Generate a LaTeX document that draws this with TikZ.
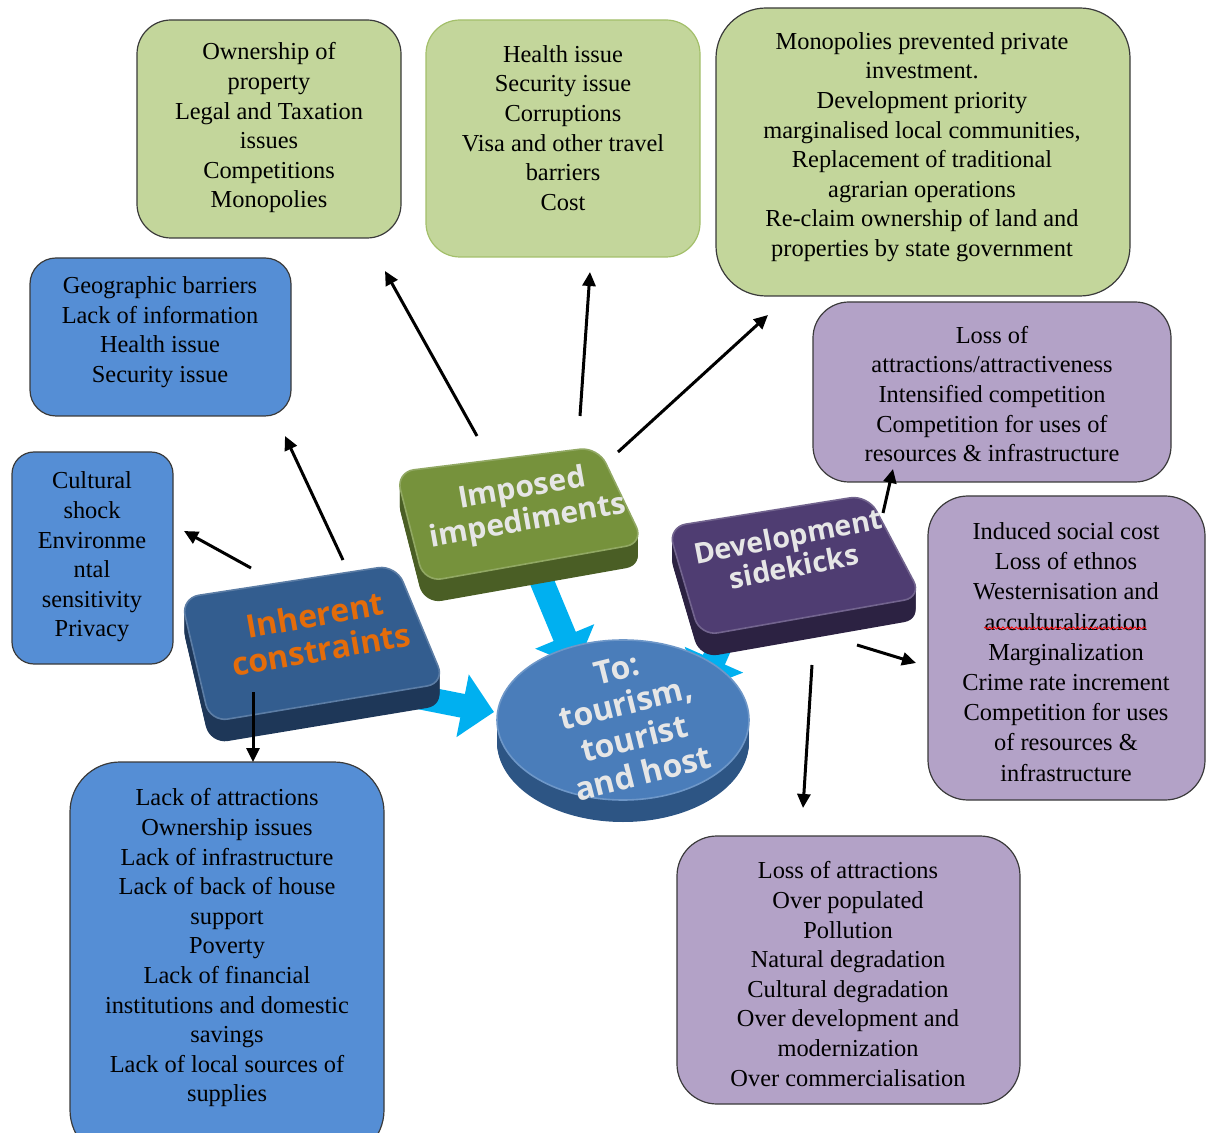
\documentclass[tikz,border=0pt]{standalone}
\usepackage{fontspec}
\setmainfont{Liberation Serif}
\newfontfamily\blockfont{Open Sans}
\usetikzlibrary{arrows.meta,fit,decorations.pathmorphing}

\definecolor{gfill}{HTML}{C3D69B}
\definecolor{bfill}{HTML}{558ED5}
\definecolor{pfill}{HTML}{B3A2C7}
\definecolor{edge}{HTML}{3A3A3A}
\definecolor{gedge}{HTML}{A3BF6A}
\definecolor{fatblue}{HTML}{00B0F0}
\definecolor{ictop}{HTML}{335D8F}
\definecolor{icside}{HTML}{1E3758}
\definecolor{iitop}{HTML}{76923C}
\definecolor{iiside}{HTML}{4A5E25}
\definecolor{dstop}{HTML}{4F3D72}
\definecolor{dsside}{HTML}{2C2242}
\definecolor{cytop}{HTML}{4A7DBA}
\definecolor{cyside}{HTML}{2D5584}
\definecolor{icorange}{HTML}{E46C0A}
\definecolor{emboss}{HTML}{E6E6E6}

\tikzset{
  box/.style={draw=edge, line width=0.6pt, inner sep=0pt},
  txt/.style={align=center, inner sep=0pt,
    font=\fontsize{12.2}{14.8}\selectfont},
  slabfont/.style 2 args={align=center, inner sep=0pt,
    font=\blockfont\bfseries\fontsize{#1}{#2}\selectfont},
  link/.style={line width=1.5pt, -{Triangle[length=7pt,width=6.5pt]}},
  fatarrow/.style={fatblue, line width=12pt,
    -{Triangle[length=16pt,width=31pt]}},
}

\begin{document}
\begin{tikzpicture}[x=0.5pt,y=-0.5pt]
\useasboundingbox (0,0) rectangle (1210,1133);
\clip (0,0) rectangle (1210,1133);

% ---------- text boxes ----------
\node[box, fill=gfill, rounded corners=17pt, fit={(137,20) (401,238)}] (own) {};
\node[txt] (ownt) at (269,128) {Ownership of\\property\\Legal and Taxation\\issues\\Competitions\\Monopolies};

\node[box, draw=gedge, fill=gfill, rounded corners=17pt, fit={(426,20) (700,257)}] (health) {};
\node[txt] (healtht) at (563,128) {Health issue\\Security issue\\Corruptions\\Visa and other travel\\barriers\\Cost};

\node[box, fill=gfill, rounded corners=25pt, fit={(716,8) (1130,296)}] (mono) {};
\node[txt] (monot) at (922,147) {Monopolies prevented private\\investment.\\Development priority\\marginalised local communities,\\Replacement of traditional\\agrarian operations\\Re-claim ownership of land and\\properties by state government};

\node[box, fill=bfill, rounded corners=13pt, fit={(30,258) (291,416)}] (geo) {};
\node[txt] (geot) at (160,332) {Geographic barriers\\Lack of information\\Health issue\\Security issue};

\node[box, fill=bfill, rounded corners=11pt, fit={(12,452) (173,664)}] (cult) {};
\node[txt] (cultt) at (92,557) {Cultural\\shock\\Environme\\ntal\\sensitivity\\Privacy};

\node[box, fill=bfill, rounded corners=25pt, fit={(70,762) (384,1160)}] (lack) {};
\node[txt] (lackt) at (227,948) {Lack of attractions\\Ownership issues\\Lack of infrastructure\\Lack of back of house\\support\\Poverty\\Lack of financial\\institutions and domestic\\savings\\Lack of local sources of\\supplies};

\node[box, fill=pfill, rounded corners=18pt, fit={(813,302) (1171,482)}] (lossa) {};
\node[txt] (lossat) at (992,394) {Loss of\\attractions/attractiveness\\Intensified competition\\Competition for uses of\\resources \& infrastructure};

\node[box, fill=pfill, rounded corners=20pt, fit={(928,496) (1205,800)}] (social) {};
\begin{scope}
  \clip (928,496) rectangle (1205,781);
  \node[txt, font=\fontsize{12.2}{15.1}\selectfont] (socialt) at (1066,652) {Induced social cost\\Loss of ethnos\\Westernisation and\\acculturalization\\Marginalization\\Crime rate increment\\Competition for uses\\of resources \&\\infrastructure};
\end{scope}
\draw[red, line width=0.4pt, decorate,
      decoration={snake, amplitude=0.5pt, segment length=2.2pt}]
  (984,628) -- (1146,628);

\node[box, fill=pfill, rounded corners=20pt, fit={(677,836) (1020,1104)}] (over) {};
\node[txt] (overt) at (848,974) {Loss of attractions\\Over populated\\Pollution\\Natural degradation\\Cultural degradation\\Over development and\\modernization\\Over commercialisation};

% ---------- broad arrows into the centre (behind the slabs) ----------
\coordinate (fa1s) at (418,697);  \coordinate (fa1e) at (494,712);
\coordinate (fa2s) at (535,565);  \coordinate (fa2e) at (577,666);
\coordinate (fa3s) at (735,612);  \coordinate (fa3e) at (701,689);
\draw[fatarrow] (fa1s) -- (fa1e);
\draw[fatarrow] (fa2s) -- (fa2e);
\draw[fatarrow] (fa3s) -- (fa3e);

% ---------- raised slabs ----------
% Inherent constraints
\foreach \d in {0,1,...,22}
  \fill[icside, rounded corners=9pt, yshift=-\d*0.5pt]
    (181,598) -- (396,565) -- (445,683) -- (210,722) -- cycle;
\fill[ictop, rounded corners=9pt, draw=ictop!80!white, line width=0.8pt]
  (181,598) -- (396,565) -- (445,683) -- (210,722) -- cycle;

% Imposed impediments
\foreach \d in {0,1,...,22}
  \fill[iiside, rounded corners=9pt, yshift=-\d*0.5pt]
    (396,472) -- (598,447) -- (644,543) -- (424,582) -- cycle;
\fill[iitop, rounded corners=9pt, draw=iitop!80!white, line width=0.8pt]
  (396,472) -- (598,447) -- (644,543) -- (424,582) -- cycle;

% Development sidekicks
\foreach \d in {0,1,...,22}
  \fill[dsside, rounded corners=9pt, yshift=-\d*0.5pt]
    (668,527) -- (868,495) -- (922,597) -- (700,636) -- cycle;
\fill[dstop, rounded corners=9pt, draw=dstop!80!white, line width=0.8pt]
  (668,527) -- (868,495) -- (922,597) -- (700,636) -- cycle;

% central cylinder
\foreach \d in {0,1,...,22}
  \fill[cyside, yshift=-\d*0.5pt] (623,720) ellipse [x radius=126, y radius=80];
\fill[cytop, draw=cytop!80!white, line width=0.8pt]
  (623,720) ellipse [x radius=126, y radius=80];

% ---------- slab lettering ----------
\node[slabfont={16}{17.5}, rotate=10, text=icorange] (ict) at (318,632) {Inherent\\constraints};
\node[slabfont={15}{16.5}, rotate=10, text=emboss] (iit) at (525,506) {Imposed\\impediments};
\node[slabfont={14.3}{15.5}, rotate=11, text=emboss] (dst) at (791,551) {Development\\sidekicks};
\node[slabfont={16}{18}, rotate=14, text=emboss] (cyt) at (630,721) {To:\\tourism,\\tourist\\and host};

% ---------- connectors ----------
\coordinate (a1s) at (251,568);  \coordinate (a1e) at (184,531);
\coordinate (a2s) at (343,560);  \coordinate (a2e) at (285,436);
\coordinate (a3s) at (253,692);  \coordinate (a3e) at (253,762);
\coordinate (a4s) at (477,436);  \coordinate (a4e) at (385,271);
\coordinate (a5s) at (580,416);  \coordinate (a5e) at (590,272);
\coordinate (a6s) at (618,452);  \coordinate (a6e) at (768,315);
\coordinate (a7s) at (883,513);  \coordinate (a7e) at (893,469);
\coordinate (a8s) at (857,645);  \coordinate (a8e) at (916,663);
\coordinate (a9s) at (812,665);  \coordinate (a9e) at (803,808);
\foreach \n in {1,...,9} \draw[link] (a\n s) -- (a\n e);
\end{tikzpicture}
\end{document}
